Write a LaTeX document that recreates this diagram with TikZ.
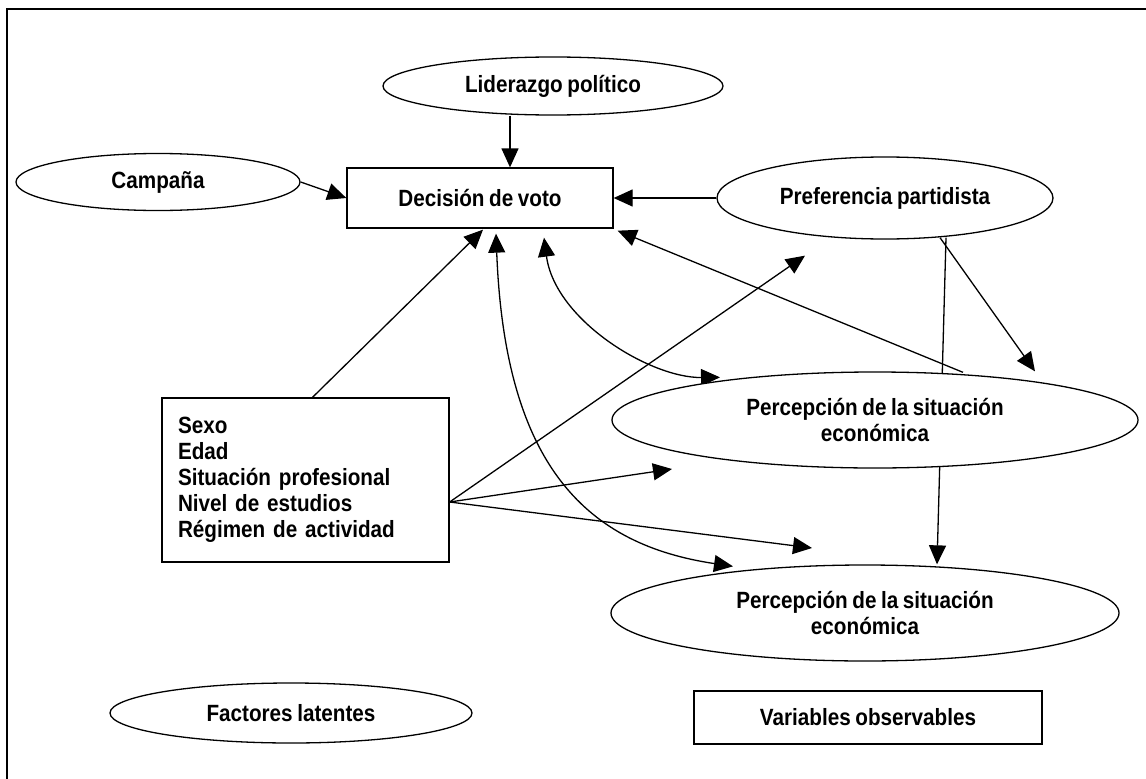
\documentclass[tikz,border=0pt]{standalone}
\usepackage{fontspec}
\setmainfont{Liberation Sans}[FakeStretch=0.88,WordSpace=0.8]
\usetikzlibrary{shapes.geometric,calc,arrows.meta}
\pgfdeclarelayer{background}
\pgfsetlayers{background,main}
\tikzset{>={Triangle[length=19pt,width=17pt]}}

\begin{document}
\begin{tikzpicture}[x=1pt,y=-1pt,line width=1.3pt,
    every node/.style={font=\bfseries\fontsize{23.5}{26}\selectfont,inner sep=0pt,fill=white},
    factor/.style={draw,ellipse},
    observ/.style={draw,rectangle}]
    \useasboundingbox (0,0) rectangle (1146,779);
    \draw[line width=1.6pt] (7,779) -- (7,9) -- (1146,9);
    % factores latentes
    \node[factor,minimum width=340pt,minimum height=58pt] (lider) at (553,86) {Liderazgo político};
    \node[factor,minimum width=284pt,minimum height=57pt] (campana) at (158,182) {Campaña};
    \node[factor,minimum width=336pt,minimum height=82pt] (pref) at (885,198) {Preferencia partidista};
    \node[factor,minimum width=526pt,minimum height=96pt,align=center] (perc1) at (875,420) {Percepción de la situación\\económica};
    \node[factor,minimum width=508pt,minimum height=96pt,align=center] (perc2) at (865,613) {Percepción de la situación\\económica};
    \node[factor,minimum width=362pt,minimum height=60pt] (latent) at (291,713) {Factores latentes};
    % variables observables
    \node[observ,minimum width=266pt,minimum height=60pt] (voto) at (480,198) {Decisión de voto};
    \node[observ,text width=255pt,align=left,inner xsep=16pt,minimum height=164pt] (socio) at (305.5,480)
        {Sexo\\Edad\\Situación profesional\\Nivel de estudios\\Régimen de actividad};
    \node[observ,minimum width=348pt,minimum height=53pt] (observ) at (868,717.5) {Variables observables};
    \coordinate (fin1) at (672,469);
    \coordinate (fin2) at (812,548);
    \begin{pgfonlayer}{background}
    \begin{scope}[line width=1.3pt]
    \path[->] ($(lider.south)+(-43,0)$) edge ($(voto.north)+(30,0)$);
    \path[->] (campana.east) edge (voto.west);
    \path[->] (pref.west) edge (voto.east);
    \path[->] ($(socio.north)+(7,0)$) edge ($(voto.south)+(3,1)$);
    \path[->] ($(perc1.north)+(88,1)$) edge ($(voto.south east)+(4,2)$);
    \draw[<->] ($(voto.south)+(64,9)$) .. controls (555,320) and (650,378) .. ($(perc1.north)+(-155,6)$);
    \draw[<->] ($(voto.south)+(16,5)$) .. controls (505,470) and (590,545) .. ($(perc2.north)+(-132,2)$);
    \path[->] ($(socio.east)+(0,22)$) edge ($(pref.south)+(-80,16)$);
    \path[->] ($(socio.east)+(0,22)$) edge (fin1);
    \path[->] ($(socio.east)+(0,22)$) edge (fin2);
    \path[->] ($(pref.south)+(55,-2)$) edge ($(perc1.north)+(160,0)$);
    \path[->] ($(pref.south)+(61,-2)$) edge ($(perc2.north)+(72,0)$);
    \end{scope}
    \end{pgfonlayer}
\end{tikzpicture}
\end{document}
